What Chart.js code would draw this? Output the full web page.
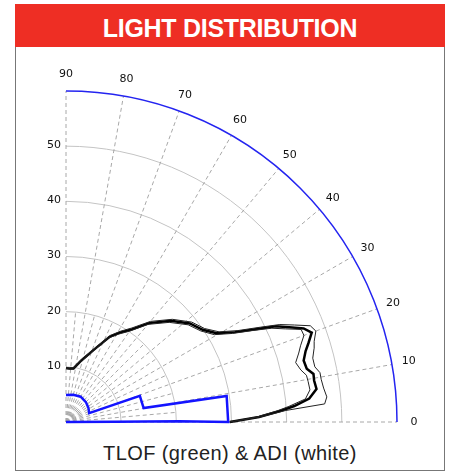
<!DOCTYPE html>
<html>
<head>
<meta charset="utf-8">
<script src="https://cdn.jsdelivr.net/npm/chart.js@4.4.1/dist/chart.umd.min.js"></script>
<style>
  body { margin: 0; background: #fff; }
  #head { position: absolute; left: 15px; top: 4px; width: 430px; height: 43px; background: #ee2e24; }
  #title { position: absolute; left: 15px; top: 15.5px; width: 430px; text-align: center;
           font: bold 25px/25px "Liberation Sans", Arial, sans-serif; letter-spacing: -0.3px; color: #fff; }
  #frame { position: absolute; left: 15px; top: 47px; width: 428px; height: 423px;
           border: 1px solid #777; border-top: none; }
  #caption { position: absolute; left: 15px; top: 443px; width: 430px; text-align: center;
             font: 20px/20px "Liberation Sans", Arial, sans-serif; letter-spacing: 0.4px; color: #222; }
  #wrap { position: absolute; left: 0; top: 0; width: 449px; height: 472px; }
</style>
</head>
<body>
<div id="head"></div>
<div id="title">LIGHT DISTRIBUTION</div>
<div id="frame"></div>
<div id="caption">TLOF (green) &amp; ADI (white)</div>
<div id="wrap"><canvas id="chart"></canvas></div>
<script>
// polar data: angle in degrees (0 = horizontal, 90 = vertical), intensity in plot units
const blackAngles = [0, 1.5, 3, 4, 5.5, 7.5, 9.5, 11, 12.5, 14.5, 16.5, 18, 20, 21.5, 23, 24.5, 26, 28, 30.5, 34, 38.5, 44, 50, 55, 59, 63, 69, 76, 82, 86, 90];
const meanValues  = [29.7, 35.0, 39.0, 41.5, 44.3, 45.8, 45.6, 45.7, 44.7, 44.5, 45.3, 46.2, 47.4, 46.3, 44.0, 41.8, 38.5, 34.7, 31.7, 29.9, 28.7, 26.4, 23.4, 20.4, 18.9, 17.3, 14.0, 11.5, 9.8, 9.7, 9.8];
const upperValues = [29.8, 35.3, 39.9, 47.0, 47.5, 47.1, 46.9, 46.9, 46.2, 46.2, 46.9, 47.3, 48.2, 47.6, 45.0, 42.6, 39.2, 35.3, 32.2, 30.3, 29.1, 26.8, 23.8, 20.8, 19.2, 17.6, 14.2, 11.7, 9.9, 9.8, 9.9];
const lowerValues = [29.6, 34.6, 38.3, 40.5, 43.6, 44.6, 44.5, 44.4, 43.6, 43.0, 44.0, 44.7, 45.9, 45.8, 43.2, 41.0, 37.9, 34.2, 31.2, 29.5, 28.3, 26.0, 23.1, 20.1, 18.6, 17.1, 13.8, 11.3, 9.7, 9.6, 9.7];

// blue requirement outline
const blueAngles = [90, 75, 60, 45, 32, 21, 19.5, 10.2, 9.2, 0, 0.4, 0.3, 0];
const blueValues = [4.9, 5.1, 5.3, 5.1, 4.8, 4.5, 14.2, 14.3, 29.5, 29.4, 20.5, 9.0, 0];

// axes
const radialTicks = [10, 20, 30, 40, 50];
const radialMax = 60;
const angleTicks = [0, 10, 20, 30, 40, 50, 60, 70, 80, 90];

function toXY(angles, values) {
  return angles.map((a, i) => ({
    x: values[i] * Math.cos(a * Math.PI / 180),
    y: values[i] * Math.sin(a * Math.PI / 180)
  }));
}

const polarGrid = {
  id: 'polarGrid',
  beforeDatasetsDraw(chart) {
    const { ctx, scales: { x, y } } = chart;
    const ox = x.getPixelForValue(0), oy = y.getPixelForValue(0);
    const k = x.getPixelForValue(1) - ox;
    ctx.save();
    // rings
    ctx.strokeStyle = '#c4c4c4';
    ctx.lineWidth = 1;
    radialTicks.forEach(r => {
      ctx.beginPath();
      ctx.arc(ox, oy, r * k, -Math.PI / 2, 0);
      ctx.stroke();
    });
    // spokes
    ctx.strokeStyle = '#a8a8a8';
    ctx.setLineDash([4, 3]);
    angleTicks.forEach(a => {
      const t = a * Math.PI / 180;
      ctx.beginPath();
      ctx.moveTo(ox, oy);
      ctx.lineTo(ox + radialMax * k * Math.cos(t), oy - radialMax * k * Math.sin(t));
      ctx.stroke();
    });
    [5, 15, 25, 35, 45, 55, 65, 75, 85].forEach(a => {
      const t = a * Math.PI / 180;
      ctx.beginPath();
      ctx.moveTo(ox, oy);
      ctx.lineTo(ox + 20 * k * Math.cos(t), oy - 20 * k * Math.sin(t));
      ctx.stroke();
    });
    ctx.setLineDash([]);
    // outer boundary
    ctx.strokeStyle = '#2424f0';
    ctx.lineWidth = 1.5;
    ctx.beginPath();
    ctx.arc(ox, oy, radialMax * k, -Math.PI / 2, 0);
    ctx.stroke();
    // labels
    ctx.fillStyle = '#111';
    ctx.font = '11px "DejaVu Sans", sans-serif';
    ctx.textAlign = 'center';
    ctx.textBaseline = 'middle';
    angleTicks.forEach(a => {
      const t = a * Math.PI / 180;
      ctx.fillText(String(a), ox + 63.1 * k * Math.cos(t), oy - 63.1 * k * Math.sin(t));
    });
    ctx.textAlign = 'right';
    radialTicks.forEach(r => {
      ctx.fillText(String(r), ox - 5, oy - r * k - 1);
    });
    ctx.restore();
  }
};

const line = (data, color, width) => ({
  data, showLine: true, borderColor: color, borderWidth: width,
  pointRadius: 0, clip: false, tension: 0
});

new Chart(document.getElementById('chart'), {
  type: 'scatter',
  data: {
    datasets: [
      line(toXY(blueAngles, blueValues), '#1414ff', 2.5),
      line(toXY(blackAngles, upperValues), '#222', 1),
      line(toXY(blackAngles, lowerValues), '#222', 1),
      line(toXY(blackAngles, meanValues), '#000', 2.5)
    ]
  },
  options: {
    responsive: true,
    maintainAspectRatio: false,
    animation: false,
    layout: { padding: { left: 66, top: 91, right: 52, bottom: 50 } },
    plugins: { legend: { display: false }, tooltip: { enabled: false } },
    scales: {
      x: { type: 'linear', min: 0, max: radialMax, display: false },
      y: { type: 'linear', min: 0, max: radialMax, display: false }
    }
  },
  plugins: [polarGrid]
});
</script>
</body>
</html>
